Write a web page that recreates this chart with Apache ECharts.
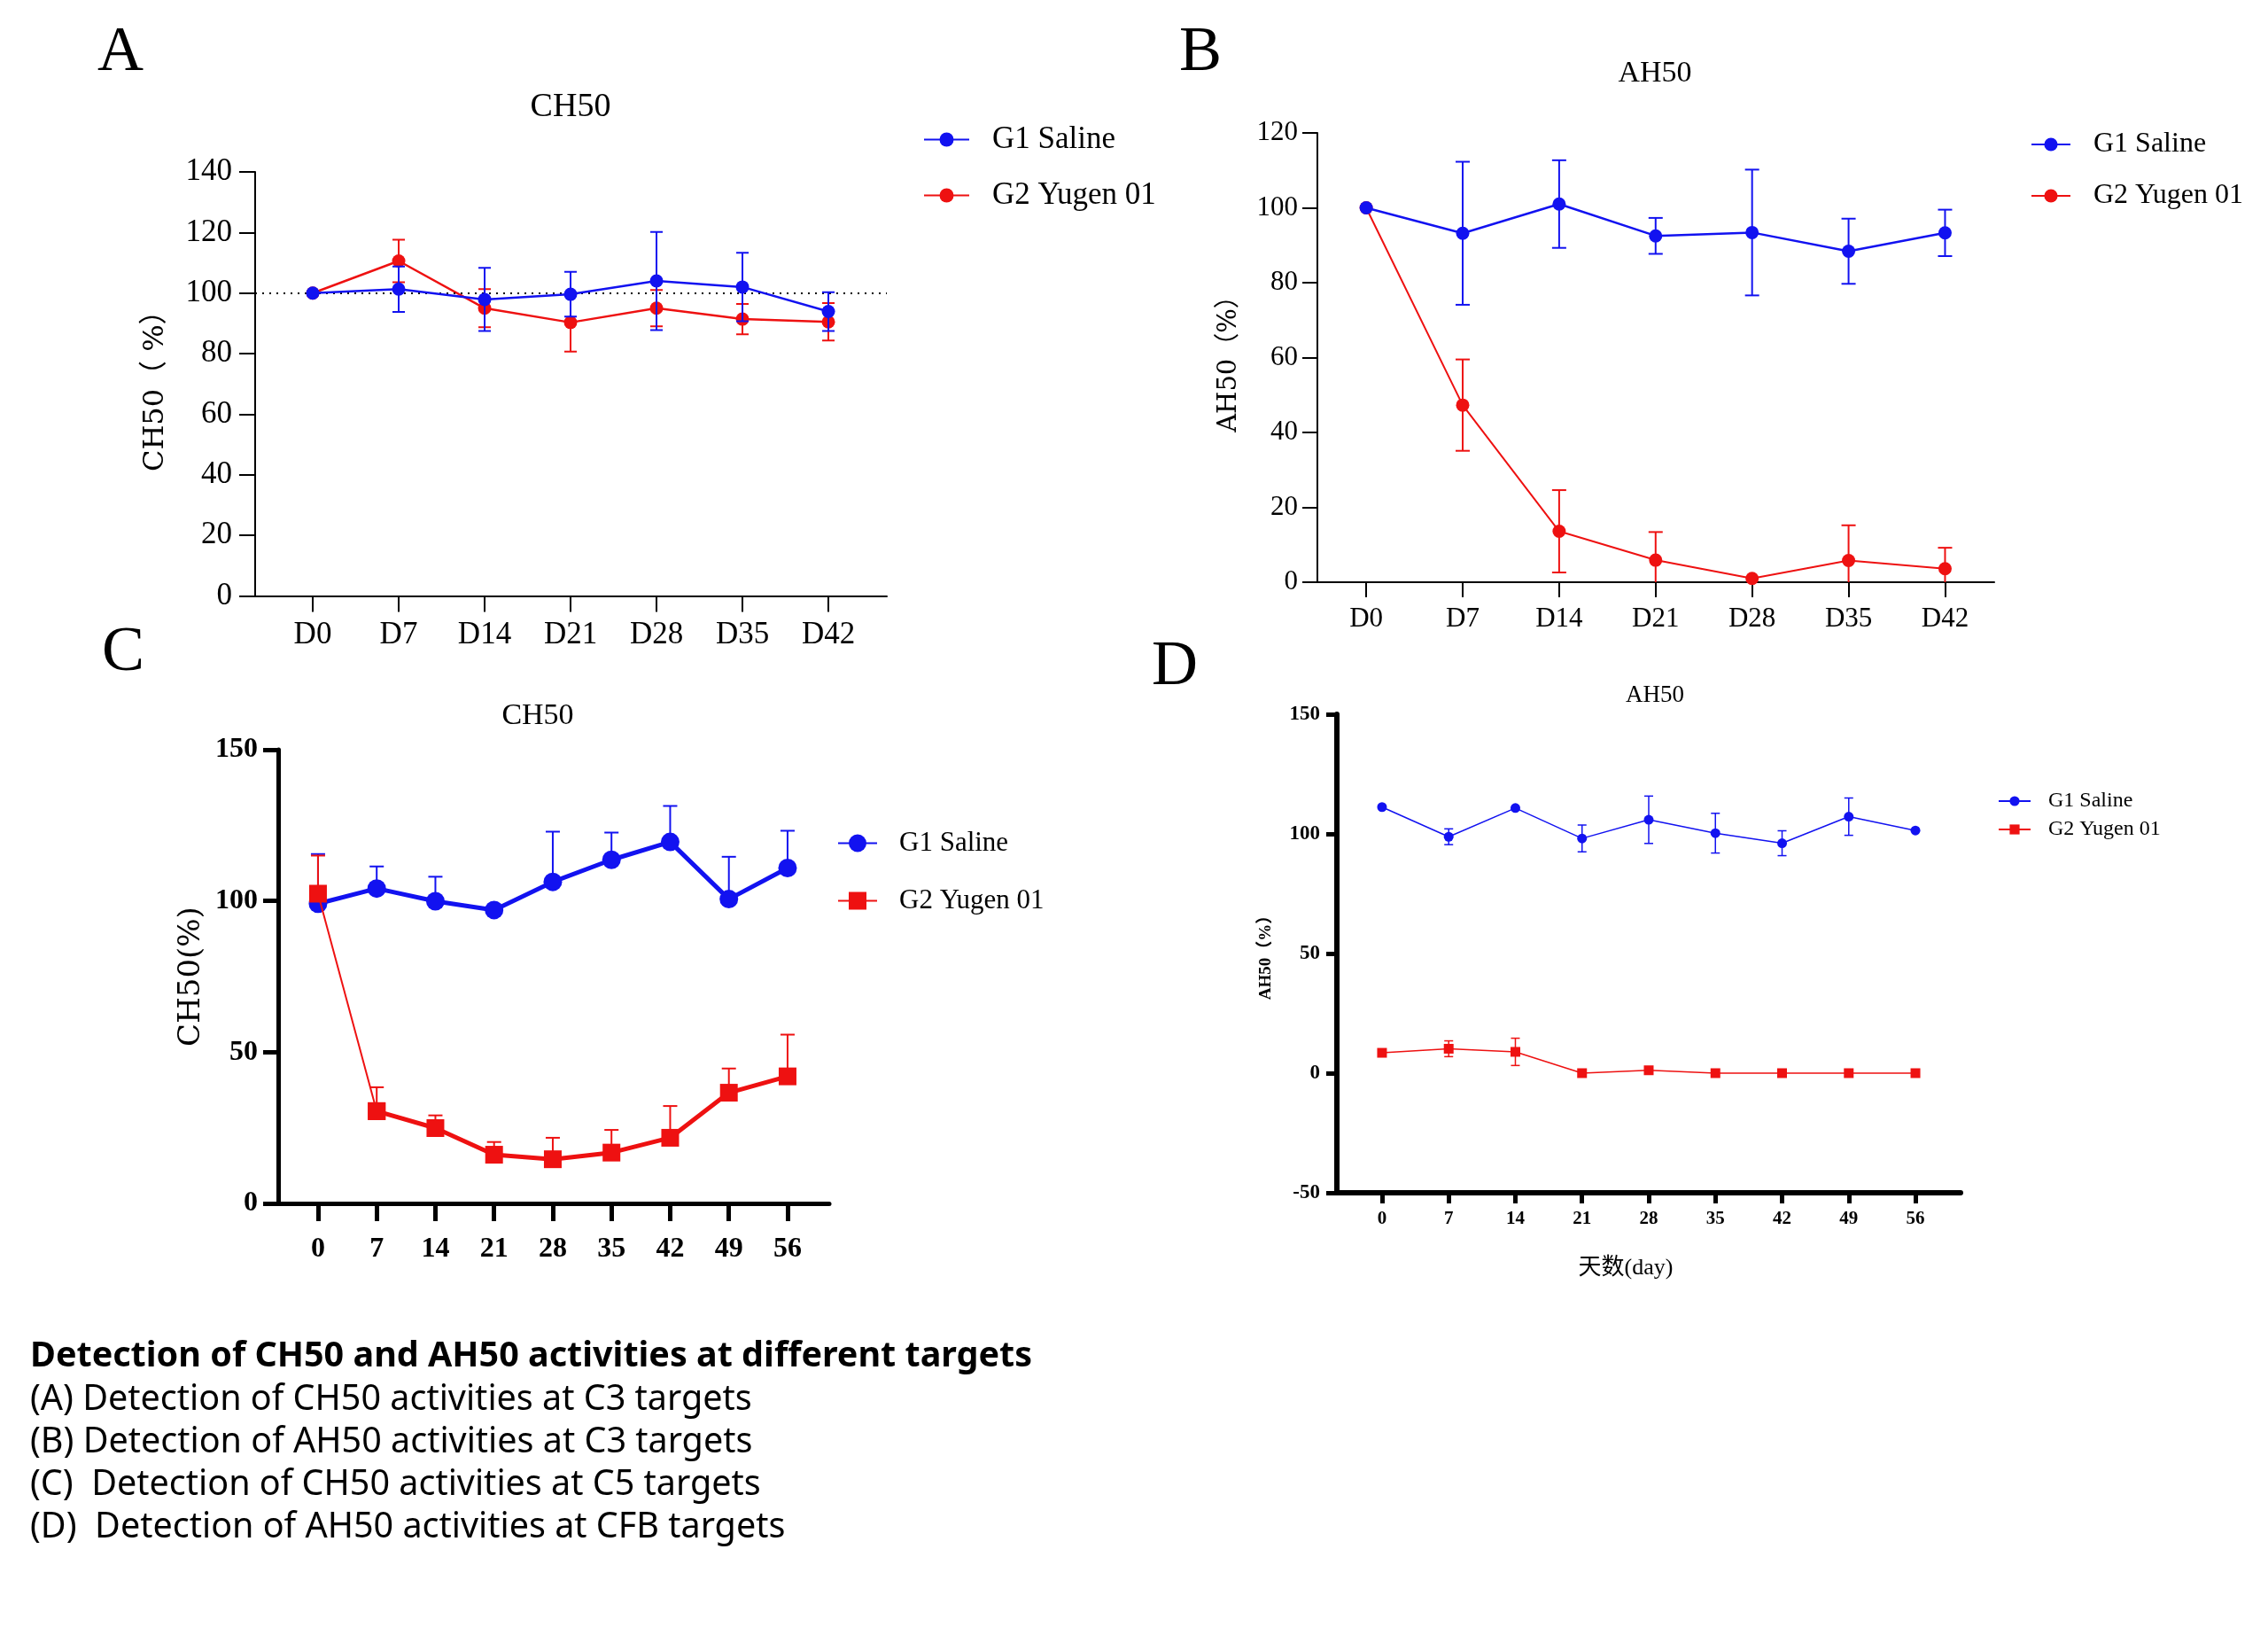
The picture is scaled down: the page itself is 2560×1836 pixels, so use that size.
<!DOCTYPE html>
<html><head><meta charset="utf-8">
<script src="https://cdn.jsdelivr.net/npm/echarts@6/dist/echarts.min.js"></script>
<style>html,body{margin:0;padding:0;background:#fff}#c{width:2560px;height:1836px}</style>
</head><body><div id="c"></div>
<script>
// ---------- data ----------
const labelsAB = ['D0','D7','D14','D21','D28','D35','D42'];
const idxAB = [0,1,2,3,4,5,6];
const daysCD = [0,7,14,21,28,35,42,49,56];

const seriesNames = ['G1 Saline','G2 Yugen 01'];

// Panel A: CH50 (C3 targets)
const aSaline    = [100, 101.3, 97.9, 99.6, 104.0, 102.0, 93.9];
const aSalineErr = [0, 7.5, 10.4, 7.4, 16.2, 11.3, 6.4];
const aYugen     = [100, 110.6, 95.0, 90.3, 95.0, 91.4, 90.5];
const aYugenErr  = [0, 7.0, 6.3, 9.6, 6.0, 5.0, 6.2];
const aReference = 100;

// Panel B: AH50 (C3 targets)
const bSaline    = [100, 93.2, 101.0, 92.5, 93.4, 88.4, 93.3];
const bSalineErr = [0, 19.1, 11.7, 4.8, 16.8, 8.7, 6.2];
const bYugen     = [100, 47.3, 13.6, 5.9, 1.0, 5.8, 3.6];
const bYugenErr  = [0, 12.2, 11.0, 7.5, 0, 9.4, 5.6];

// Panel C: CH50 (C5 targets)
const cSaline    = [99.1, 104.1, 99.9, 97.0, 106.3, 113.6, 119.5, 100.6, 110.9];
const cSalineErr = [16.4, 7.3, 8.1, 0, 16.6, 9.0, 11.9, 14.0, 12.3];
const cYugen     = [102.4, 30.5, 24.9, 16.1, 14.6, 16.8, 21.7, 36.6, 42.0];
const cYugenErr  = [12.6, 7.9, 4.2, 4.2, 7.1, 7.5, 10.5, 8.0, 13.8];

// Panel D: AH50 (CFB targets)
const dSaline    = [111.2, 98.8, 110.8, 98.1, 105.9, 100.3, 96.1, 107.2, 101.4];
const dSalineErr = [0, 3.3, 0, 5.6, 9.9, 8.3, 5.2, 7.8, 0];
const dYugen     = [8.5, 10.2, 8.9, 0, 1.2, 0, 0, 0, 0];
const dYugenErr  = [0, 3.3, 5.7, 0, 0, 0, 0, 0, 0];

const captionTitle = 'Detection of CH50 and AH50 activities at different targets';
const captionLines = [
  '(A) Detection of CH50 activities at C3 targets',
  '(B) Detection of AH50 activities at C3 targets',
  '(C)  Detection of CH50 activities at C5 targets',
  '(D)  Detection of AH50 activities at CFB targets'
];

// ---------- styling ----------
const BLUE = '#1212f0', RED = '#ee1111', BLACK = '#000';
const SERIF = '"Liberation Serif","Times New Roman",serif';
const WIDE = '"DejaVu Serif","Noto Sans CJK SC",serif';
const SANS = '"Noto Sans","Open Sans",sans-serif';

const pairs = (xs, ys) => xs.map((x, i) => [x, ys[i]]);

function lineSeries(name, gi, xs, ys, color, width, symbol, size, z) {
  return {
    type: 'line', name: name, xAxisIndex: gi, yAxisIndex: gi,
    data: pairs(xs, ys), symbol: symbol, symbolSize: size, showSymbol: true,
    lineStyle: { color: color, width: width }, itemStyle: { color: color },
    z: z, animation: false, emphasis: { disabled: true }
  };
}

function errSeries(name, gi, xs, m, e, color, half, lw, upOnly, z) {
  return {
    type: 'custom', name: name, xAxisIndex: gi, yAxisIndex: gi, clip: true, silent: true,
    z: z, animation: false,
    data: xs.map((x, i) => [x, upOnly ? m[i] : m[i] - e[i], m[i] + e[i], e[i]]),
    renderItem: function (params, api) {
      if (api.value(3) <= 0) return null;
      const x = api.value(0);
      const top = api.coord([x, api.value(2)]);
      const bot = api.coord([x, api.value(1)]);
      const st = { stroke: color, lineWidth: lw, fill: null };
      const ch = [
        { type: 'line', shape: { x1: top[0], y1: top[1], x2: bot[0], y2: bot[1] }, style: st },
        { type: 'line', shape: { x1: top[0] - half, y1: top[1], x2: top[0] + half, y2: top[1] }, style: st }
      ];
      if (!upOnly) ch.push({ type: 'line', shape: { x1: bot[0] - half, y1: bot[1], x2: bot[0] + half, y2: bot[1] }, style: st });
      return { type: 'group', children: ch };
    }
  };
}

function xAxisDef(gi, min, max, ticks, fmt, o) {
  return {
    type: 'value', gridIndex: gi, min: min, max: max,
    axisLine: { show: true, onZero: false, lineStyle: { color: BLACK, width: o.lw } },
    axisTick: { show: true, inside: false, length: o.tick, customValues: ticks, lineStyle: { color: BLACK, width: o.tw } },
    axisLabel: { show: true, customValues: ticks, formatter: fmt, margin: o.margin,
      fontFamily: SERIF, fontSize: o.fs, fontWeight: o.fw || 'normal', color: BLACK },
    splitLine: { show: false },
    name: o.name || '', nameLocation: 'middle', nameGap: o.nameGap || 0,
    nameTextStyle: o.nameStyle || {}
  };
}

function yAxisDef(gi, min, max, interval, o) {
  return {
    type: 'value', gridIndex: gi, min: min, max: max, interval: interval,
    axisLine: { show: true, onZero: false, lineStyle: { color: BLACK, width: o.lw } },
    axisTick: { show: true, inside: false, length: o.tick, lineStyle: { color: BLACK, width: o.tw } },
    axisLabel: { show: true, margin: o.margin, fontFamily: SERIF, fontSize: o.fs,
      fontWeight: o.fw || 'normal', color: BLACK },
    splitLine: { show: false },
    name: o.name, nameLocation: 'middle', nameGap: o.nameGap, nameRotate: 90,
    nameTextStyle: Object.assign({ color: BLACK }, o.nameStyle)
  };
}

function legendDef(prefix, left, top, iw, ih, fs, gap, pad) {
  return {
    orient: 'vertical', left: left, top: top, itemWidth: iw, itemHeight: ih, itemGap: gap,
    data: seriesNames.map(n => prefix + '|' + n),
    formatter: n => n.split('|')[1],
    selectedMode: false,
    textStyle: { fontFamily: SERIF, fontSize: fs, lineHeight: fs, color: BLACK, padding: [0, 0, 0, pad] }
  };
}

function txt(text, x, y, size, family, weight, align) {
  return { type: 'text', x: x, y: y, silent: true,
    style: { text: text, fontSize: size, fontFamily: family, fontWeight: weight || 'normal', fill: BLACK,
      align: align || 'center', verticalAlign: 'middle', textAlign: align || 'center', textVerticalAlign: 'middle' } };
}

const fmtAB = v => labelsAB[idxAB.indexOf(v)] || '';
const fmtCD = v => String(v);

const optA = { lw: 2, tw: 2, tick: 18, fs: 35, margin: 27 };
const optB = { lw: 2, tw: 2, tick: 17, fs: 31, margin: 26 };
const optC = { lw: 5, tw: 5, tick: 20, fs: 32, fw: 'bold', margin: 36 };
const optD = { lw: 6, tw: 5, tick: 12, fs: 21, fw: 'bold', margin: 19,
  name: '天数(day)', nameGap: 72,
  nameStyle: { fontFamily: SERIF + ',"Noto Sans CJK SC"', fontSize: 26, color: BLACK, padding: [0, 52, 0, 0] } };

const cYugenMain = cYugen.map((v, i) => i === 0 ? '-' : v);
const cYugenHead = cYugen.map((v, i) => i < 2 ? v : '-');

const option = {
  backgroundColor: '#fff',
  animation: false,
  grid: [
    { left: 288, top: 194, width: 713, height: 478.5 },
    { left: 1487, top: 150, width: 764, height: 507 },
    { left: 314, top: 846, width: 622, height: 512 },
    { left: 1509, top: 806, width: 704, height: 540 }
  ],
  xAxis: [
    xAxisDef(0, -0.67, 6.68, idxAB, fmtAB, optA),
    xAxisDef(1, -0.506, 6.51, idxAB, fmtAB, optB),
    xAxisDef(2, -4.75, 60.97, daysCD, fmtCD, optC),
    xAxisDef(3, -4.74, 60.74, daysCD, fmtCD, optD)
  ],
  yAxis: [
    yAxisDef(0, 0, 140, 20, { lw: 2, tw: 2, tick: 18, fs: 35, margin: 26,
      name: 'CH50（ %）', nameGap: 96, nameStyle: { fontFamily: WIDE, fontSize: 32 } }),
    yAxisDef(1, 0, 120, 20, { lw: 2, tw: 2, tick: 17, fs: 31, margin: 22,
      name: 'AH50（%）', nameGap: 85, nameStyle: { fontFamily: WIDE, fontSize: 29 } }),
    yAxisDef(2, 0, 150, 50, { lw: 5, tw: 5, tick: 17, fs: 32, fw: 'bold', margin: 23,
      name: 'CH50(%)', nameGap: 81, nameStyle: { fontFamily: WIDE, fontSize: 34 } }),
    yAxisDef(3, -50, 150, 50, { lw: 6, tw: 5, tick: 12, fs: 23, fw: 'bold', margin: 19,
      name: 'AH50（%）', nameGap: 70, nameStyle: { fontFamily: SERIF + ',"Noto Sans CJK SC"', fontSize: 19, fontWeight: 'bold' } })
  ],
  legend: [
    legendDef('A', 1037, 135, 51, 20, 35, 28, 21),
    legendDef('B', 2287, 142, 44, 19, 32, 26, 21),
    legendDef('C', 940, 931, 44, 25, 31, 34, 20),
    legendDef('D', 2250, 887, 36, 14, 24, 8, 15)
  ],
  graphic: [
    txt('A', 136, 60, 72, SERIF),
    txt('B', 1355, 60, 72, SERIF),
    txt('C', 139, 737, 72, SERIF),
    txt('D', 1326, 753, 72, SERIF),
    txt('CH50', 644, 121, 38, SERIF),
    txt('AH50', 1868, 83, 34, SERIF),
    txt('CH50', 607, 808, 34, SERIF),
    txt('AH50', 1868, 785, 27, SERIF),
    txt(captionTitle, 34, 1531, 39.5, SANS, 'bold', 'left')
  ].concat(captionLines.map((t, i) => txt(t, 34, 1580 + i * 48, 39.5, SANS, 'normal', 'left'))),
  series: [
    // A
    Object.assign(lineSeries('A|G1 Saline', 0, idxAB, aSaline, BLUE, 2.5, 'circle', 15, 6), {
      markLine: { silent: true, symbol: ['none', 'none'], label: { show: false },
        lineStyle: { color: BLACK, width: 2, type: [2, 6] }, data: [{ yAxis: aReference }] } }),
    lineSeries('A|G2 Yugen 01', 0, idxAB, aYugen, RED, 2.5, 'circle', 15, 4),
    errSeries('A|G1 Saline', 0, idxAB, aSaline, aSalineErr, BLUE, 7, 2, false, 5),
    errSeries('A|G2 Yugen 01', 0, idxAB, aYugen, aYugenErr, RED, 7, 2, false, 3),
    // B
    lineSeries('B|G1 Saline', 1, idxAB, bSaline, BLUE, 2.5, 'circle', 15, 6),
    lineSeries('B|G2 Yugen 01', 1, idxAB, bYugen, RED, 2, 'circle', 15, 4),
    errSeries('B|G1 Saline', 1, idxAB, bSaline, bSalineErr, BLUE, 8, 2, false, 5),
    errSeries('B|G2 Yugen 01', 1, idxAB, bYugen, bYugenErr, RED, 8, 2, false, 3),
    // C
    lineSeries('C|G1 Saline', 2, daysCD, cSaline, BLUE, 5, 'circle', 21, 4),
    lineSeries('C|G2 Yugen 01', 2, daysCD, cYugenMain, RED, 5, 'rect', 20, 6),
    lineSeries('C|G2 Yugen 01', 2, daysCD, cYugenHead, RED, 2, 'rect', 20, 5),
    errSeries('C|G1 Saline', 2, daysCD, cSaline, cSalineErr, BLUE, 8, 2, true, 3),
    errSeries('C|G2 Yugen 01', 2, daysCD, cYugen, cYugenErr, RED, 8, 2, true, 3),
    // D
    lineSeries('D|G1 Saline', 3, daysCD, dSaline, BLUE, 1.5, 'circle', 11, 6),
    lineSeries('D|G2 Yugen 01', 3, daysCD, dYugen, RED, 1.5, 'rect', 11, 6),
    errSeries('D|G1 Saline', 3, daysCD, dSaline, dSalineErr, BLUE, 5, 1.5, false, 5),
    errSeries('D|G2 Yugen 01', 3, daysCD, dYugen, dYugenErr, RED, 5, 1.5, false, 5)
  ]
};

const chart = echarts.init(document.getElementById('c'), null, { renderer: 'canvas', width: 2560, height: 1836 });
chart.setOption(option);
</script>
</body></html>
